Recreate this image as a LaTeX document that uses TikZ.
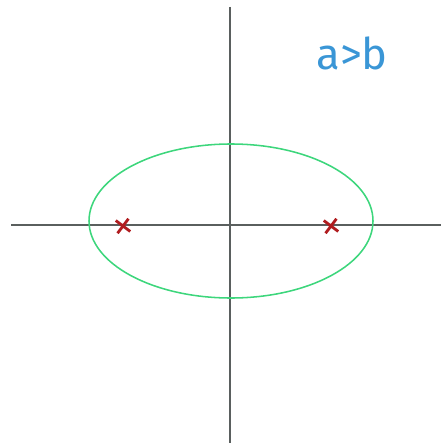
\documentclass[tikz,border=0pt]{standalone}
\usepackage{fontspec}
\setmainfont{Fira Sans}
\usetikzlibrary{shapes.misc}
\definecolor{axisgray}{HTML}{5A5F5E}
\definecolor{ellgreen}{HTML}{3DD67C}
\definecolor{focusred}{HTML}{B01C1F}
\definecolor{noteblue}{HTML}{3A96D6}
\begin{document}
\begin{tikzpicture}[x=0.05cm,y=-0.05cm,
    focus/.style={cross out,draw=focusred,line width=4pt,minimum size=0.5cm,inner sep=0pt,rotate=8}]
    \useasboundingbox (0,0) rectangle (441,445);

    % Axes
    \draw[axisgray, line width=2.6pt] (11,225) -- (441,225);
    \draw[axisgray, line width=2.6pt] (230,7) -- (230,443);

    % Ellipse
    \draw[ellgreen, line width=2.2pt] (231,221) ellipse [x radius=142, y radius=77];

    % Foci
    \node[focus] (f1) at (123,226) {};
    \node[focus] (f2) at (331,226) {};

    % Label
    \node[noteblue, font=\fontsize{62}{62}\selectfont] (note) at (352,53) {a>b};
\end{tikzpicture}
\end{document}
